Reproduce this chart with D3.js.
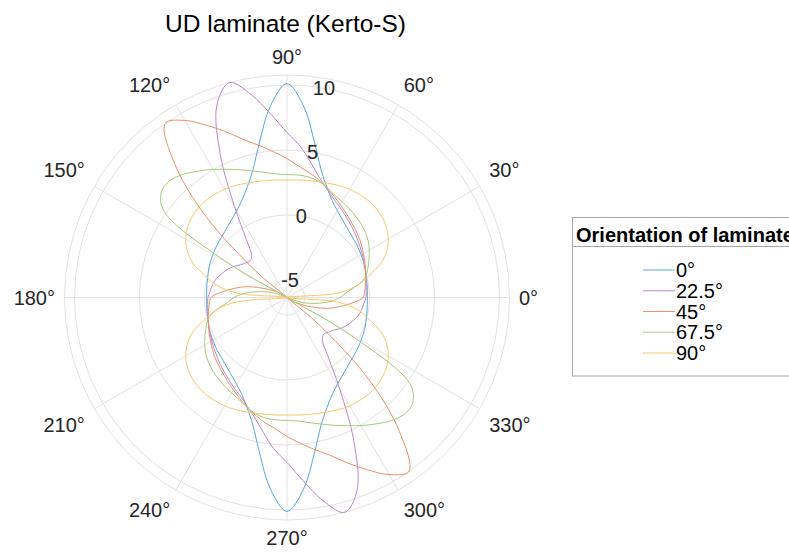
<!DOCTYPE html>
<html>
<head>
<meta charset="utf-8">
<script src="https://cdn.jsdelivr.net/npm/d3@7"></script>
<style>
  body { margin: 0; background: #fff; }
  svg { display: block; font-family: "Liberation Sans", Arial, sans-serif; }
</style>
</head>
<body>
<svg id="chart" width="789" height="555"></svg>
<script>
// Direction of the property, degrees counter-clockwise from 0°
const angles = [
  0, 5, 10, 15, 20, 25, 30, 35, 40, 45, 50, 55, 60, 65, 70, 75, 80, 85,
  90, 95, 100, 105, 110, 115, 120, 125, 130, 135, 140, 145, 150, 155, 160, 165, 170, 175,
  180, 185, 190, 195, 200, 205, 210, 215, 220, 225, 230, 235, 240, 245, 250, 255, 260, 265,
  270, 275, 280, 285, 290, 295, 300, 305, 310, 315, 320, 325, 330, 335, 340, 345, 350, 355
];

// Laminate orientation 0°
const lam0 = [
  -0.17, -0.15, -0.10, -0.04, 0.06, 0.15, 0.23, 0.34, 0.44, 0.57, 0.77, 1.03, 1.38, 1.88, 2.65, 3.80, 5.80, 8.42,
  10.11, 8.42, 5.80, 3.80, 2.65, 1.88, 1.38, 1.03, 0.77, 0.57, 0.44, 0.34, 0.23, 0.15, 0.06, -0.04, -0.10, -0.15,
  -0.17, -0.15, -0.10, -0.04, 0.06, 0.15, 0.23, 0.34, 0.44, 0.57, 0.77, 1.03, 1.38, 1.88, 2.65, 3.80, 5.80, 8.42,
  10.11, 8.42, 5.80, 3.80, 2.65, 1.88, 1.38, 1.03, 0.77, 0.57, 0.44, 0.34, 0.23, 0.15, 0.06, -0.04, -0.10, -0.15
];
// Laminate orientation 22.5°
const lam225 = [
  -0.27, -0.23, -0.16, -0.07, 0.07, 0.19, 0.34, 0.50, 0.69, 0.92, 1.15, 1.42, 1.73, 2.07, 2.57, 3.23, 4.19, 5.34,
  6.34, 7.80, 9.50, 10.77, 9.42, 5.80, 1.73, -0.89, -2.12, -2.35, -2.20, -1.97, -1.58, -1.27, -1.00, -0.73, -0.54, -0.43,
  -0.27, -0.23, -0.16, -0.07, 0.07, 0.19, 0.34, 0.50, 0.69, 0.92, 1.15, 1.42, 1.73, 2.07, 2.57, 3.23, 4.19, 5.34,
  6.34, 7.80, 9.50, 10.77, 9.42, 5.80, 1.73, -0.89, -2.12, -2.35, -2.20, -1.97, -1.58, -1.27, -1.00, -0.73, -0.54, -0.43
];
// Laminate orientation 45°
const lam45 = [
  -0.50, -0.35, -0.21, -0.09, 0.07, 0.25, 0.43, 0.65, 0.87, 1.07, 1.30, 1.57, 1.88, 2.23, 2.61, 3.03, 3.42, 3.80,
  4.34, 4.88, 5.50, 6.19, 7.19, 8.27, 9.38, 10.00, 7.11, 2.50, -3.43, -6.35, -5.58, -4.97, -4.20, -3.12, -2.27, -1.35,
  -0.50, -0.35, -0.21, -0.09, 0.07, 0.25, 0.43, 0.65, 0.87, 1.07, 1.30, 1.57, 1.88, 2.23, 2.61, 3.03, 3.42, 3.80,
  4.34, 4.88, 5.50, 6.19, 7.19, 8.27, 9.38, 10.00, 7.11, 2.50, -3.43, -6.35, -5.58, -4.97, -4.20, -3.12, -2.27, -1.35
];
// Laminate orientation 67.5°
const lam675 = [
  -2.27, -1.73, -0.81, -0.09, 0.27, 0.61, 0.96, 1.27, 1.50, 1.69, 1.84, 2.00, 2.15, 2.34, 2.65, 2.92, 3.07, 3.11,
  3.11, 3.19, 3.42, 3.73, 4.11, 4.53, 5.03, 5.53, 6.03, 6.38, 6.27, 5.19, -1.58, -6.35, -5.43, -4.66, -3.81, -2.97,
  -2.27, -1.73, -0.81, -0.09, 0.27, 0.61, 0.96, 1.27, 1.50, 1.69, 1.84, 2.00, 2.15, 2.34, 2.65, 2.92, 3.07, 3.11,
  3.11, 3.19, 3.42, 3.73, 4.11, 4.53, 5.03, 5.53, 6.03, 6.38, 6.27, 5.19, -1.58, -6.35, -5.43, -4.66, -3.81, -2.97
];
// Laminate orientation 90°
const lam90 = [
  -6.35, -2.50, -0.81, 0.19, 1.34, 2.11, 2.65, 3.00, 3.23, 3.34, 3.38, 3.34, 3.27, 3.15, 3.00, 2.88, 2.79, 2.73,
  2.69, 2.73, 2.79, 2.88, 3.00, 3.15, 3.27, 3.34, 3.38, 3.34, 3.23, 3.00, 2.65, 2.11, 1.34, 0.19, -0.81, -2.50,
  -6.35, -2.50, -0.81, 0.19, 1.34, 2.11, 2.65, 3.00, 3.23, 3.34, 3.38, 3.34, 3.27, 3.15, 3.00, 2.88, 2.79, 2.73,
  2.69, 2.73, 2.79, 2.88, 3.00, 3.15, 3.27, 3.34, 3.38, 3.34, 3.23, 3.00, 2.65, 2.11, 1.34, 0.19, -0.81, -2.50
];

const seriesLabels = ["0°", "22.5°", "45°", "67.5°", "90°"];
const seriesValues = [lam0, lam225, lam45, lam675, lam90];
const seriesColors = ["#5aa5db", "#b98ac8", "#ec9069", "#a6cb7c", "#f4cb6c"];

const rTicks = [-5, 0, 5, 10];
const thetaTicks = [0, 30, 60, 90, 120, 150, 180, 210, 240, 270, 300, 330];

const titleText = "UD laminate (Kerto-S)";
const legendTitle = "Orientation of laminate";

// ---- layout ----
const svg = d3.select("#chart");
const cx = 287, cy = 297.5, R = 222.5;
const gridColor = "#e3e3e3";
const textColor = "#262626";
const rad = d => d * Math.PI / 180;

const allValues = seriesValues.flat();
const r = d3.scaleLinear().domain(d3.extent(allValues)).range([0, R]);

const g = svg.append("g").attr("transform", `translate(${cx},${cy})`);

// radial grid circles
g.selectAll("circle.rgrid").data(rTicks).join("circle")
  .attr("class", "rgrid").attr("r", d => r(d))
  .attr("fill", "none").attr("stroke", gridColor).attr("stroke-width", 1);
// outer boundary
g.append("circle").attr("r", R).attr("fill", "none")
  .attr("stroke", gridColor).attr("stroke-width", 1);

// angular spokes
g.selectAll("line.tgrid").data(thetaTicks).join("line")
  .attr("class", "tgrid")
  .attr("x1", 0).attr("y1", 0)
  .attr("x2", d => R * Math.cos(rad(d)))
  .attr("y2", d => -R * Math.sin(rad(d)))
  .attr("stroke", gridColor).attr("stroke-width", 1);

// data curves
const line = d3.lineRadial()
  .angle(d => Math.PI / 2 - rad(d.a))
  .radius(d => r(d.v))
  .curve(d3.curveCatmullRomClosed.alpha(0.5));

seriesValues.forEach((vals, i) => {
  const pts = angles.map((a, k) => ({ a, v: vals[k] }));
  g.append("path").datum(pts)
    .attr("d", line)
    .attr("fill", "none")
    .attr("stroke", seriesColors[i])
    .attr("stroke-width", 1);
});

// radial tick labels along 80°
const rAxisAngle = rad(80);
g.selectAll("text.rlab").data(rTicks).join("text")
  .attr("class", "rlab")
  .attr("x", d => r(d) * Math.cos(rAxisAngle))
  .attr("y", d => -r(d) * Math.sin(rAxisAngle))
  .attr("dy", "0.36em")
  .attr("text-anchor", "middle")
  .attr("font-size", 20)
  .attr("fill", textColor)
  .text(d => d);

// angular tick labels: the text box corner nearest the centre sits on a ring just outside the axis
const labelRing = R + 11;
g.selectAll("text.tlab").data(thetaTicks).join("text")
  .attr("class", "tlab")
  .attr("font-size", 20)
  .attr("fill", textColor)
  .attr("text-anchor", "middle")
  .attr("dy", "0.36em")
  .text(d => d + "°")
  .each(function (d) {
    const w = this.getComputedTextLength();
    const c = Math.cos(rad(d)), s = Math.sin(rad(d));
    const ring = Math.abs(s) < 0.01 ? labelRing - 1.5 : labelRing;
    const px = ring * c, py = -ring * s;
    const halfH = Math.abs(c) < 0.01 ? 7.2 : 10.5;
    const x = c > 0.01 ? px + w / 2 : (c < -0.01 ? px - w / 2 : px);
    const y = s > 0.01 ? py - halfH : (s < -0.01 ? py + halfH : py);
    d3.select(this).attr("x", x).attr("y", y);
  });

// title
svg.append("text")
  .attr("x", 285.5).attr("y", 32)
  .attr("text-anchor", "middle")
  .attr("font-size", 24.5)
  .attr("fill", "#000")
  .text(titleText);

// legend (box runs past the right edge of the figure)
const lg = svg.append("g").attr("transform", "translate(572,217)");
lg.append("rect").attr("x", 0.5).attr("y", 0.5).attr("width", 260).attr("height", 158.5)
  .attr("fill", "#fff").attr("stroke", "#a6a6a6").attr("stroke-width", 1);
lg.append("line").attr("x1", 0.5).attr("x2", 260).attr("y1", 29.5).attr("y2", 29.5)
  .attr("stroke", "#a6a6a6").attr("stroke-width", 1);
lg.append("text").attr("x", 4).attr("y", 24.5)
  .attr("font-size", 20).attr("font-weight", "bold").attr("fill", "#000")
  .text(legendTitle);

const rowY = d3.scalePoint().domain(seriesLabels).range([53, 136]);
const rows = lg.selectAll("g.row").data(seriesLabels).join("g")
  .attr("class", "row")
  .attr("transform", d => `translate(0,${rowY(d)})`);
rows.append("line").attr("x1", 71).attr("x2", 103).attr("y1", 0).attr("y2", 0)
  .attr("stroke", (d, i) => seriesColors[i]).attr("stroke-width", 1);
rows.append("text").attr("x", 104).attr("dy", "0.36em")
  .attr("font-size", 20).attr("fill", "#000")
  .text(d => d);
</script>
</body>
</html>
